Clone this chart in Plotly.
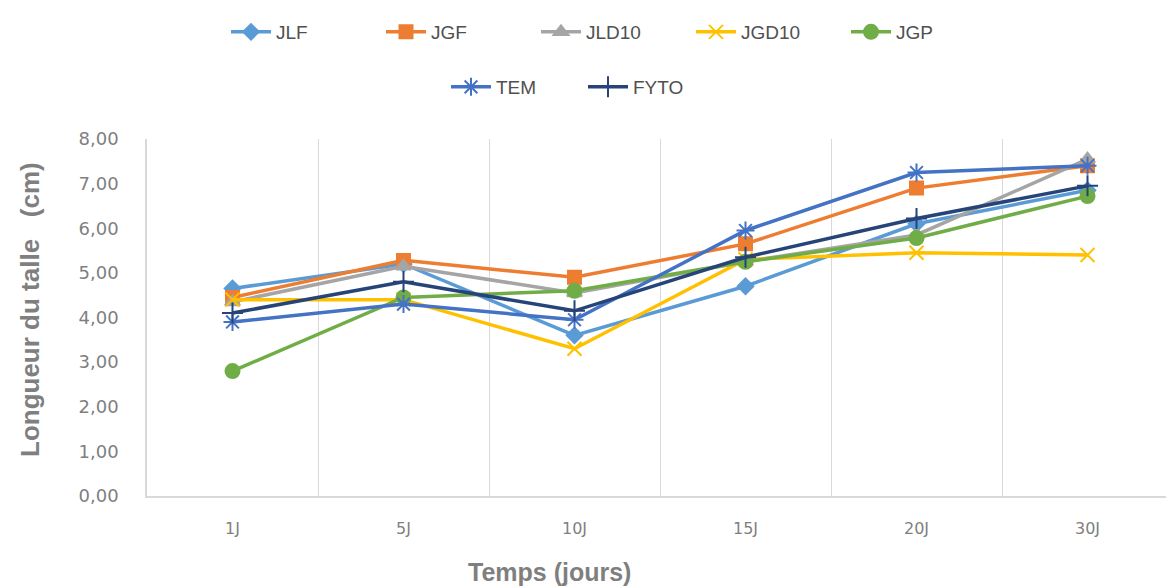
import plotly.graph_objects as go

categories = ["1J", "5J", "10J", "15J", "20J", "30J"]
JLF = [4.65, 5.20, 3.60, 4.70, 6.10, 6.85]
JGF = [4.45, 5.28, 4.90, 5.65, 6.90, 7.40]
JLD10 = [4.35, 5.15, 4.55, 5.25, 5.85, 7.55]
JGD10 = [4.40, 4.40, 3.30, 5.30, 5.45, 5.40]
JGP = [2.80, 4.45, 4.60, 5.25, 5.78, 6.72]
TEM = [3.90, 4.30, 3.95, 5.95, 7.25, 7.40]
FYTO = [4.10, 4.80, 4.15, 5.35, 6.22, 6.95]

series = [
    ("JLF", JLF, "#5B9BD5", "diamond", 12, "legend"),
    ("JGF", JGF, "#ED7D31", "square", 13, "legend"),
    ("JLD10", JLD10, "#A5A5A5", "triangle-up", 13, "legend"),
    ("JGD10", JGD10, "#FFC000", "x-thin-open", 14, "legend"),
    ("JGP", JGP, "#70AD47", "circle", 14, "legend"),
    ("TEM", TEM, "#4472C4", "asterisk-open", 15, "legend2"),
    ("FYTO", FYTO, "#264478", "cross-thin-open", 15, "legend2"),
]

fig = go.Figure()
for name, vals, color, sym, size, lg in series:
    fig.add_trace(go.Scatter(
        x=categories, y=vals, name=name, mode="lines+markers",
        line=dict(color=color, width=3.5),
        marker=dict(symbol=sym, size=size, color=color,
                    line=dict(color=color, width=2)),
        legend=lg,
    ))

legend_font = dict(family="Liberation Sans Narrow, Liberation Sans, Arial", size=19, color="#505050")
fig.update_layout(
    width=1166, height=588,
    margin=dict(l=147, r=0, t=139, b=92),
    paper_bgcolor="white", plot_bgcolor="white",
    separators=", ",
    showlegend=True,
    legend=dict(orientation="h", xref="container", x=226 / 1166, xanchor="left",
                yref="container", y=1 - 32 / 588, yanchor="middle",
                entrywidth=100, entrywidthmode="pixels", font=legend_font,
                itemwidth=40, bgcolor="rgba(0,0,0,0)"),
    legend2=dict(orientation="h", xref="container", x=446 / 1166, xanchor="left",
                 yref="container", y=1 - 87 / 588, yanchor="middle",
                 entrywidth=82, entrywidthmode="pixels", font=legend_font,
                 itemwidth=40, bgcolor="rgba(0,0,0,0)"),
    xaxis=dict(type="category", range=[-0.5, 5.459], tickson="boundaries",
               showgrid=True, gridcolor="#D9D9D9", gridwidth=1,
               showline=True, linecolor="#D9D9D9", linewidth=1.5,
               ticks="", ticklabelstandoff=17,
               tickfont=dict(family="DejaVu Sans", size=16, color="#7F7F7F"),
               zeroline=False),
    yaxis=dict(range=[0, 8], dtick=1, tickformat=".2f", showgrid=False,
               showline=True, linecolor="#D9D9D9", linewidth=1.5,
               ticks="", ticklabelstandoff=23,
               tickfont=dict(family="DejaVu Sans", size=18, color="#7F7F7F"),
               zeroline=False),
    annotations=[
        dict(text="<b>Temps (jours)</b>", xref="paper", yref="paper",
             x=(549 - 147) / 1019, y=-(572 - 496) / 357, xanchor="center", yanchor="middle",
             showarrow=False, font=dict(family="Liberation Sans, Arial", size=25, color="#7F7F7F")),
        dict(text="<b>Longueur du talle   (cm)</b>", xref="paper", yref="paper",
             x=(30 - 147) / 1019, y=(496 - 310) / 357, xanchor="center", yanchor="middle",
             textangle=-90, showarrow=False,
             font=dict(family="Liberation Sans, Arial", size=26, color="#7F7F7F")),
    ],
)

fig.write_html("out.html")
